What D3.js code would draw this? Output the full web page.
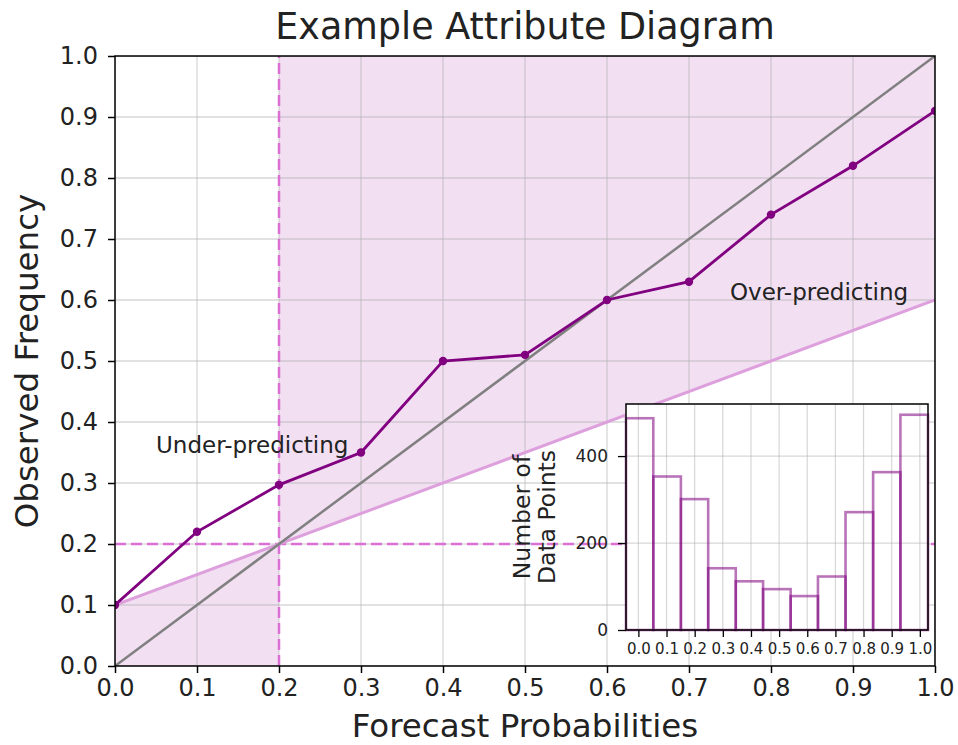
<!DOCTYPE html>
<html>
<head>
<meta charset="utf-8">
<script src="https://cdn.jsdelivr.net/npm/d3@7"></script>
<style>
  html, body { margin: 0; padding: 0; background: #fff; }
  svg { display: block; font-family: "DejaVu Sans", sans-serif; }
</style>
</head>
<body>
<svg id="chart" width="958" height="745"></svg>
<script>
// Reliability curve: forecast probability bins and observed frequency
const forecastProbs = [0.0, 0.1, 0.2, 0.3, 0.4, 0.5, 0.6, 0.7, 0.8, 0.9, 1.0];
const observedFreq  = [0.10, 0.22, 0.297, 0.35, 0.50, 0.51, 0.60, 0.63, 0.74, 0.82, 0.91];

// Climatological base rate
const climatology = 0.2;

// Histogram of forecasts (sharpness) shown in the inset
const histEdges  = [-0.044, 0.053, 0.151, 0.248, 0.346, 0.443, 0.541, 0.638, 0.736, 0.834, 0.931, 1.029];
const histCounts = [487, 353, 301, 142, 112, 94, 78, 123, 271, 363, 495];

// Tick values
const mainTicks  = [0.0, 0.1, 0.2, 0.3, 0.4, 0.5, 0.6, 0.7, 0.8, 0.9, 1.0];
const insetXTicks = [0.0, 0.1, 0.2, 0.3, 0.4, 0.5, 0.6, 0.7, 0.8, 0.9, 1.0];
const insetYTicks = [0, 200, 400];

const svg = d3.select("#chart");

// ---------- main axes ----------
const P = { left: 115, right: 935, top: 56, bottom: 666 };
const x = d3.scaleLinear().domain([0, 1]).range([P.left, P.right]);
const y = d3.scaleLinear().domain([0, 1]).range([P.bottom, P.top]);

svg.append("defs").append("clipPath").attr("id", "plotClip")
  .append("rect")
  .attr("x", P.left).attr("y", P.top)
  .attr("width", P.right - P.left).attr("height", P.bottom - P.top);

const plot = svg.append("g").attr("clip-path", "url(#plotClip)");

// no-skill line: halfway between perfect reliability and climatology
const noSkill = v => (v + climatology) / 2;

// skill zone: below the no-skill line left of climatology, above it to the right
const leftZone  = [0, climatology];
const rightZone = [climatology, 1];
plot.append("path")
  .datum(leftZone)
  .attr("fill", "#f2dff2")
  .attr("d", d3.area().x(d => x(d)).y0(() => y(0)).y1(d => y(noSkill(d))));
plot.append("path")
  .datum(rightZone)
  .attr("fill", "#f2dff2")
  .attr("d", d3.area().x(d => x(d)).y0(d => y(noSkill(d))).y1(() => y(1)));

// grid
const grid = plot.append("g").attr("stroke", "#b0b0b0").attr("stroke-opacity", 0.5).attr("stroke-width", 1.3);
grid.selectAll(".gx").data(mainTicks).join("line")
  .attr("x1", d => x(d)).attr("x2", d => x(d)).attr("y1", P.top).attr("y2", P.bottom);
grid.selectAll(".gy").data(mainTicks).join("line")
  .attr("y1", d => y(d)).attr("y2", d => y(d)).attr("x1", P.left).attr("x2", P.right);

// climatology reference lines
plot.append("line")
  .attr("x1", x(0)).attr("x2", x(1)).attr("y1", y(climatology)).attr("y2", y(climatology))
  .attr("stroke", "#da70d6").attr("stroke-width", 2.5).attr("stroke-dasharray", "11,5");
plot.append("line")
  .attr("x1", x(climatology)).attr("x2", x(climatology)).attr("y1", y(0)).attr("y2", y(1))
  .attr("stroke", "#da70d6").attr("stroke-width", 2.5).attr("stroke-dasharray", "11,5");

// no-skill line
plot.append("path")
  .datum([0, 1])
  .attr("fill", "none").attr("stroke", "#dda0dd").attr("stroke-width", 3)
  .attr("d", d3.line().x(d => x(d)).y(d => y(noSkill(d))));

// perfect reliability diagonal
plot.append("path")
  .datum([0, 1])
  .attr("fill", "none").attr("stroke", "#808080").attr("stroke-width", 2.5)
  .attr("d", d3.line().x(d => x(d)).y(d => y(d)));

// reliability curve
const curve = forecastProbs.map((p, i) => [p, observedFreq[i]]);
plot.append("path")
  .datum(curve)
  .attr("fill", "none").attr("stroke", "#800080").attr("stroke-width", 2.8)
  .attr("d", d3.line().x(d => x(d[0])).y(d => y(d[1])));
plot.selectAll(".pt").data(curve).join("circle")
  .attr("cx", d => x(d[0])).attr("cy", d => y(d[1])).attr("r", 4.2)
  .attr("fill", "#800080");

// region annotations
svg.append("text").attr("x", x(0.05)).attr("y", y(0.35))
  .attr("font-size", 23).attr("fill", "#222").text("Under-predicting");
svg.append("text").attr("x", x(0.75)).attr("y", y(0.6))
  .attr("font-size", 23).attr("fill", "#222").text("Over-predicting");

// axes
const fmt = d3.format(".1f");
const xAxis = svg.append("g").attr("transform", `translate(0,${P.bottom})`)
  .call(d3.axisBottom(x).tickValues(mainTicks).tickFormat(fmt).tickSize(7).tickSizeOuter(0).tickPadding(6));
const yAxis = svg.append("g").attr("transform", `translate(${P.left},0)`)
  .call(d3.axisLeft(y).tickValues(mainTicks).tickFormat(fmt).tickSize(7).tickSizeOuter(0).tickPadding(10));
[xAxis, yAxis].forEach(a => {
  a.select(".domain").remove();
  a.selectAll("line").attr("stroke", "#000").attr("stroke-width", 1.5);
  a.selectAll("text").attr("font-size", 24).attr("fill", "#222").attr("font-family", "DejaVu Sans");
});

svg.append("rect")
  .attr("x", P.left).attr("y", P.top)
  .attr("width", P.right - P.left).attr("height", P.bottom - P.top)
  .attr("fill", "none").attr("stroke", "#000").attr("stroke-width", 1.5);

// titles
svg.append("text").attr("x", (P.left + P.right) / 2).attr("y", 39)
  .attr("text-anchor", "middle").attr("font-size", 36.5).attr("fill", "#222")
  .text("Example Attribute Diagram");
svg.append("text").attr("x", (P.left + P.right) / 2).attr("y", 737)
  .attr("text-anchor", "middle").attr("font-size", 32.5).attr("fill", "#222")
  .text("Forecast Probabilities");
svg.append("text").attr("transform", `translate(38,${(P.top + P.bottom) / 2}) rotate(-90)`)
  .attr("text-anchor", "middle").attr("font-size", 32.5).attr("fill", "#222")
  .text("Observed Frequency");

// ---------- inset histogram ----------
const I = { left: 626, right: 928, top: 404, bottom: 630 };
const ix = d3.scaleLinear().domain([histEdges[0], histEdges[histEdges.length - 1]]).range([I.left, I.right]);
const iy = d3.scaleLinear().domain([0, d3.max(histCounts) * 1.05]).range([I.bottom, I.top]);

const inset = svg.append("g");
inset.append("rect")
  .attr("x", I.left).attr("y", I.top).attr("width", I.right - I.left).attr("height", I.bottom - I.top)
  .attr("fill", "#fff");

const igrid = inset.append("g").attr("stroke", "#b0b0b0").attr("stroke-opacity", 0.5).attr("stroke-width", 1.2);
igrid.selectAll(".gx").data(insetXTicks).join("line")
  .attr("x1", d => ix(d)).attr("x2", d => ix(d)).attr("y1", I.top).attr("y2", I.bottom);
igrid.selectAll(".gy").data(insetYTicks).join("line")
  .attr("y1", d => iy(d)).attr("y2", d => iy(d)).attr("x1", I.left).attr("x2", I.right);

inset.selectAll(".bar").data(histCounts).join("rect")
  .attr("x", (d, i) => ix(histEdges[i]))
  .attr("width", (d, i) => ix(histEdges[i + 1]) - ix(histEdges[i]))
  .attr("y", d => iy(d))
  .attr("height", d => iy(0) - iy(d))
  .attr("fill", "none").attr("stroke", "#800080").attr("stroke-opacity", 0.55).attr("stroke-width", 2.6);

const ixAxis = inset.append("g").attr("transform", `translate(0,${I.bottom})`)
  .call(d3.axisBottom(ix).tickValues(insetXTicks).tickFormat(fmt).tickSize(7).tickSizeOuter(0).tickPadding(6));
const iyAxis = inset.append("g").attr("transform", `translate(${I.left},0)`)
  .call(d3.axisLeft(iy).tickValues(insetYTicks).tickSize(8).tickSizeOuter(0).tickPadding(10));
[ixAxis, iyAxis].forEach(a => {
  a.select(".domain").remove();
  a.selectAll("line").attr("stroke", "#000").attr("stroke-width", 1.3);
  a.selectAll("text").attr("fill", "#222").attr("font-family", "DejaVu Sans");
});
ixAxis.selectAll("text").attr("font-size", 15);
iyAxis.selectAll("text").attr("font-size", 17);

inset.append("rect")
  .attr("x", I.left).attr("y", I.top).attr("width", I.right - I.left).attr("height", I.bottom - I.top)
  .attr("fill", "none").attr("stroke", "#000").attr("stroke-width", 1.5);

const ylab = inset.append("text")
  .attr("transform", `translate(530,${(I.top + I.bottom) / 2}) rotate(-90)`)
  .attr("text-anchor", "middle").attr("font-size", 23.5).attr("fill", "#222");
ylab.append("tspan").attr("x", 0).attr("dy", 0).text("Number of");
ylab.append("tspan").attr("x", 0).attr("dy", 25).text("Data Points");
</script>
</body>
</html>
